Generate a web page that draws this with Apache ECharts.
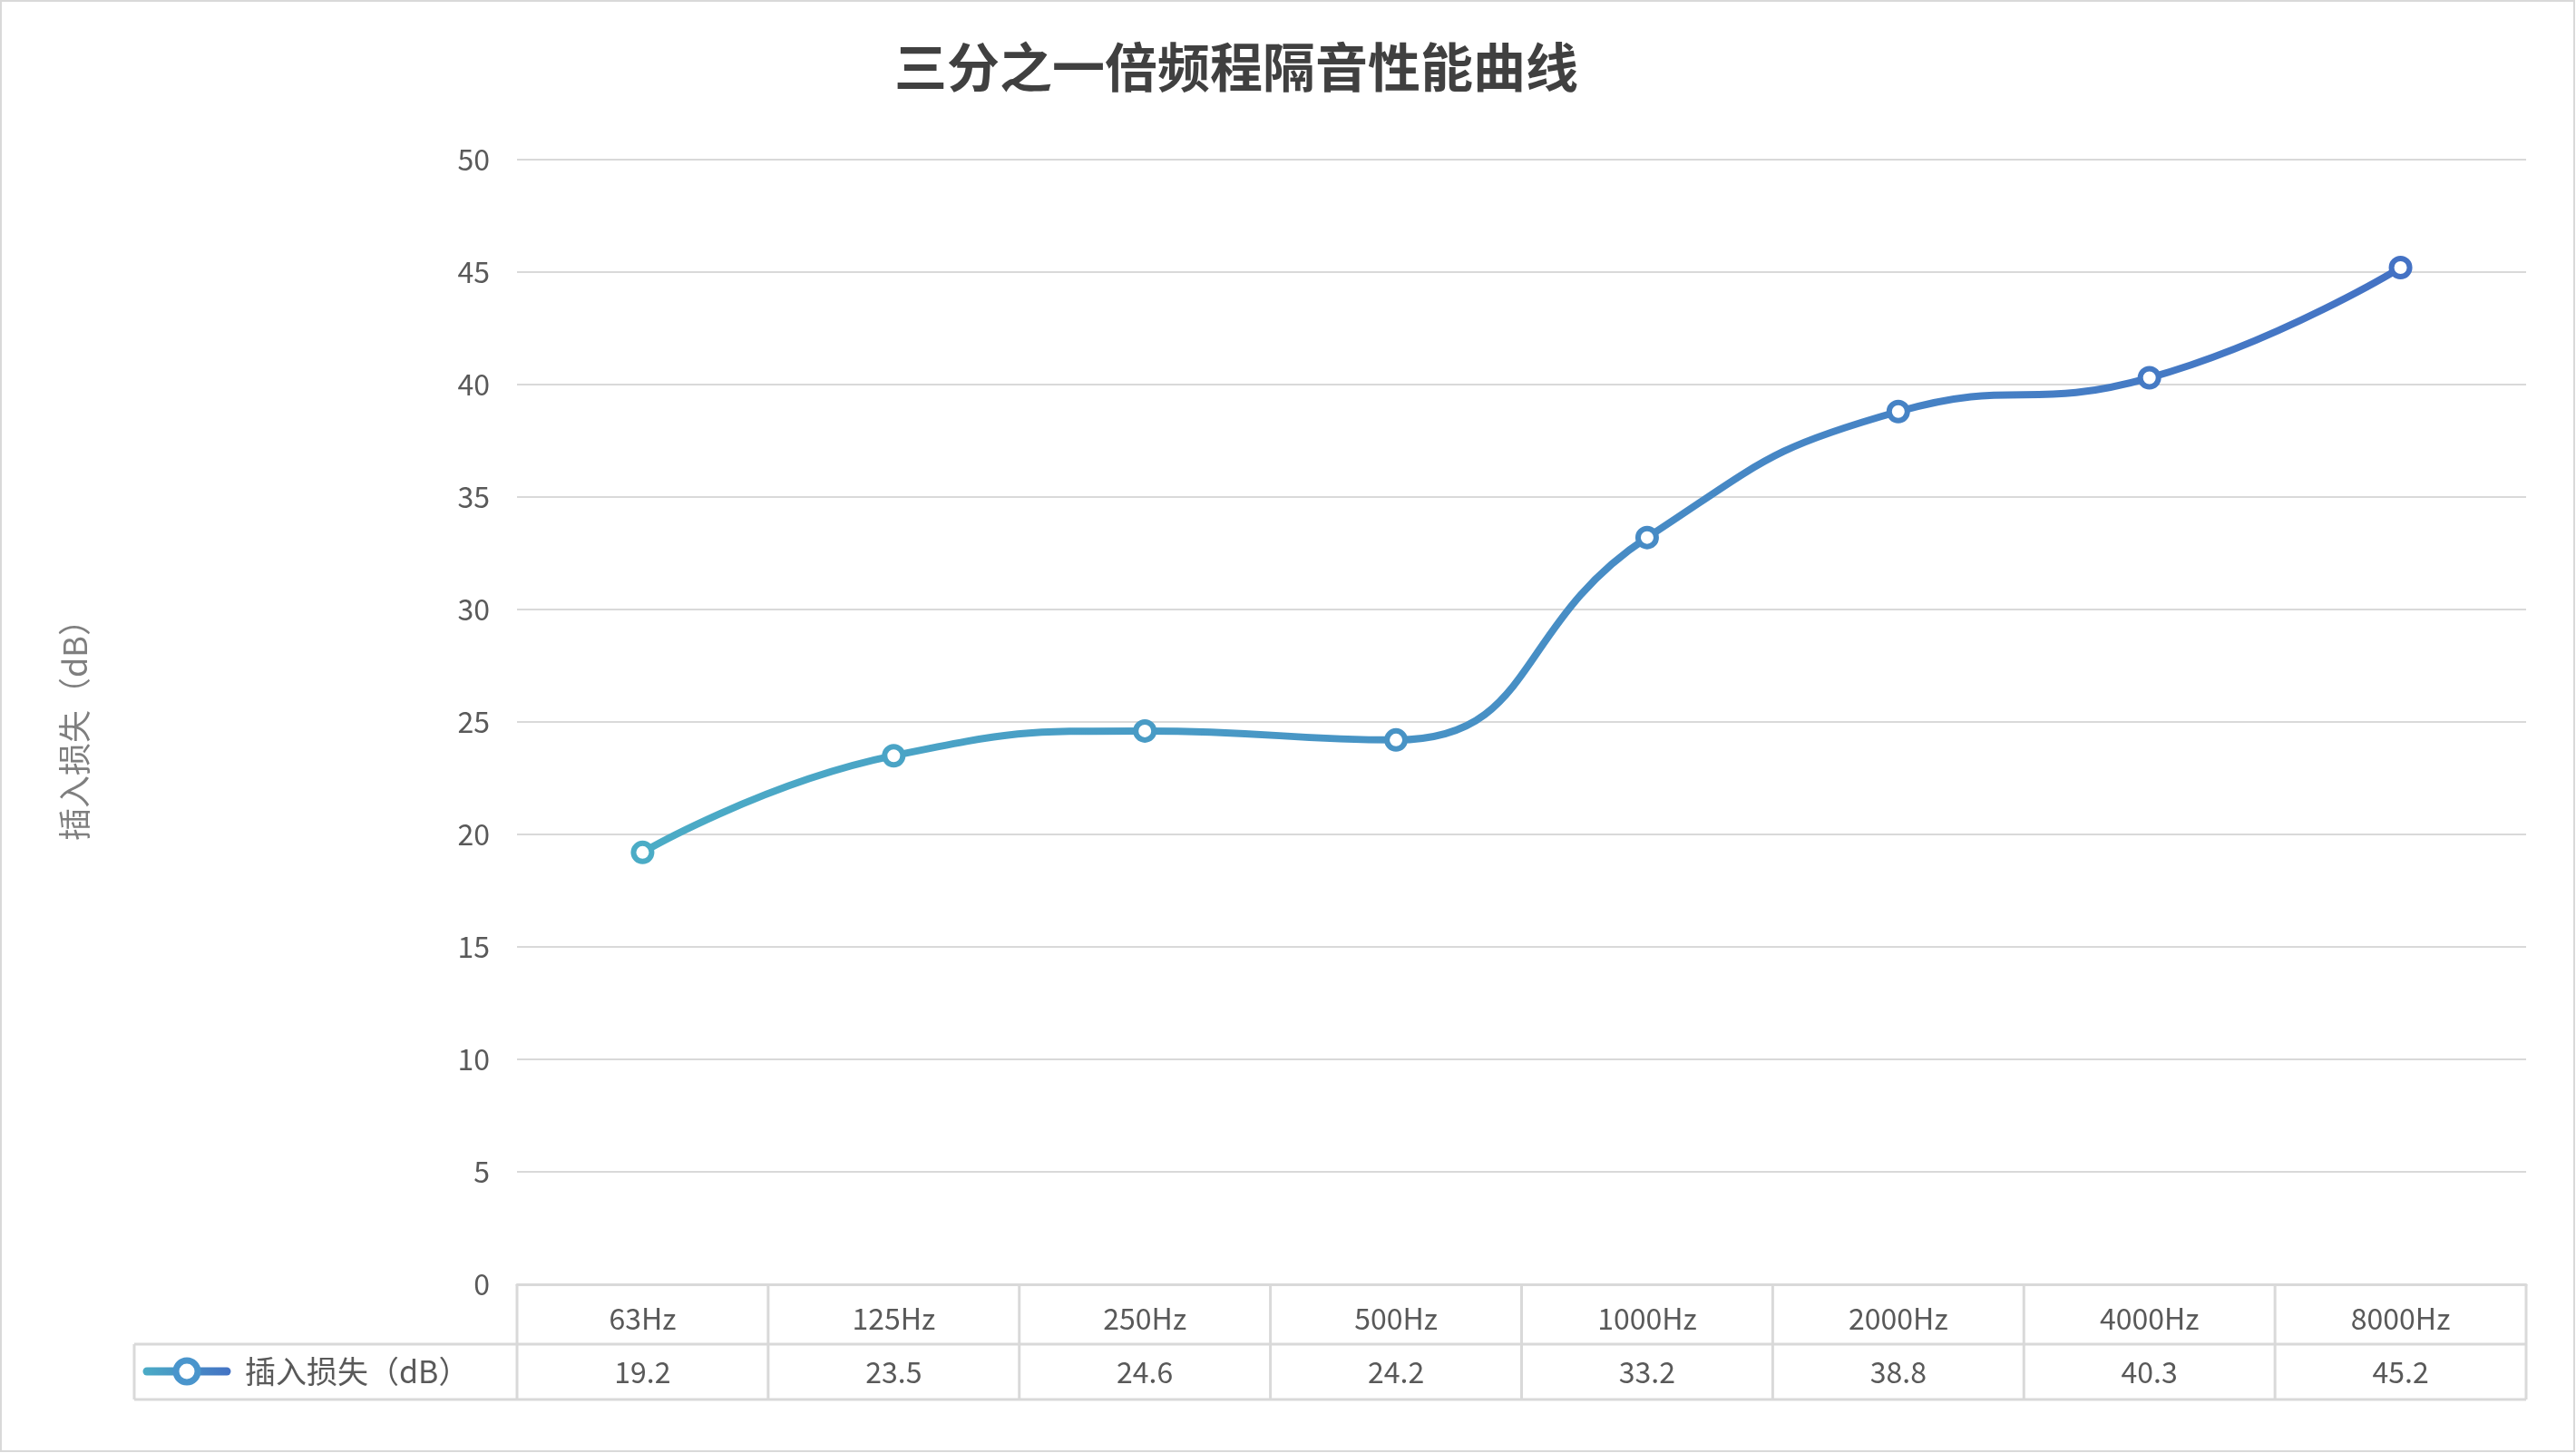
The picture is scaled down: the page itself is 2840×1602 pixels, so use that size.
<!DOCTYPE html>
<html><head><meta charset="utf-8">
<script src="https://cdn.jsdelivr.net/npm/echarts@6/dist/echarts.min.js"></script>
<style>html,body{margin:0;padding:0;background:#fff}#c{width:2840px;height:1602px}</style>
</head><body><div id="c"></div>
<script>
const title = '三分之一倍频程隔音性能曲线';
const seriesName = '插入损失（dB）';
const categories = ['63Hz','125Hz','250Hz','500Hz','1000Hz','2000Hz','4000Hz','8000Hz'];
const values = [19.2, 23.5, 24.6, 24.2, 33.2, 38.8, 40.3, 45.2];
const yTicks = {min: 0, max: 50, interval: 5};

const font = '"Noto Sans CJK SC","Noto Sans",sans-serif';
const L = 570, R = 2785, T = 176, B = 1416, ROW1 = 1482, ROW2 = 1543, LEG = 148;
const colW = (R - L) / categories.length;
const lineC = '#d9d9d9';

function mix(a, b, t) {
  const pa = a.match(/\w\w/g).map(h => parseInt(h, 16)), pb = b.match(/\w\w/g).map(h => parseInt(h, 16));
  return 'rgb(' + pa.map((v, i) => Math.round(v + (pb[i] - v) * t)).join(',') + ')';
}
const c1 = '4bacc6', c2 = '4472c4';

const g = [];
// frame
g.push({type:'rect', shape:{x:1,y:1,width:2837,height:1599}, style:{fill:'none', stroke:'#d9d9d9', lineWidth:2}});
// table lines
g.push({type:'line', shape:{x1:L,y1:ROW1,x2:R,y2:ROW1}, style:{stroke:lineC,lineWidth:3}});
g.push({type:'line', shape:{x1:LEG,y1:ROW1,x2:L,y2:ROW1}, style:{stroke:lineC,lineWidth:3}});
g.push({type:'line', shape:{x1:LEG,y1:ROW2,x2:R,y2:ROW2}, style:{stroke:lineC,lineWidth:3}});
g.push({type:'line', shape:{x1:LEG,y1:ROW1,x2:LEG,y2:ROW2}, style:{stroke:lineC,lineWidth:3}});
for (let i = 0; i <= categories.length; i++) {
  const x = L + i * colW;
  g.push({type:'line', shape:{x1:x,y1:B,x2:x,y2:ROW2}, style:{stroke:lineC,lineWidth:3}});
}
values.forEach((v, i) => {
  g.push({type:'text', x: L + (i + 0.5) * colW, y: (ROW1 + ROW2) / 2,
    style:{text:String(v), font:'32px ' + font, fill:'#595959', align:'center', verticalAlign:'middle'}});
});
// legend key
g.push({type:'line', shape:{x1:162,y1:1512,x2:250,y2:1512},
  style:{stroke:new echarts.graphic.LinearGradient(0,0,1,0,[{offset:0,color:'#'+c1},{offset:1,color:'#'+c2}]),lineWidth:9,lineCap:'round'}});
g.push({type:'circle', shape:{cx:206,cy:1512,r:12}, style:{fill:'#fff', stroke:'#4a95cc', lineWidth:7}});
g.push({type:'text', x:270, y:1512,
  style:{text:seriesName, font:'34px ' + font, fill:'#595959', verticalAlign:'middle'}});

const chart = echarts.init(document.getElementById('c'));
chart.setOption({
  animation:false,
  backgroundColor:'#fff',
  title:{text:title, left:'center', left:1358, textAlign:'center', top:40,
    textStyle:{fontFamily:font, fontSize:58, fontWeight:'bold', color:'#404040'}},
  grid:{left:L, right:2840-R, top:T, bottom:1602-B},
  xAxis:{type:'category', data:categories, boundaryGap:true,
    axisLine:{lineStyle:{color:lineC,width:3}}, axisTick:{show:false},
    axisLabel:{fontFamily:font, fontSize:32, color:'#595959', margin:22}},
  yAxis:{type:'value', min:yTicks.min, max:yTicks.max, interval:yTicks.interval,
    name:seriesName, nameLocation:'middle', nameGap:470, nameRotate:90,
    nameTextStyle:{fontFamily:font, fontSize:36, color:'#7f7f7f'},
    axisLine:{show:false}, axisTick:{show:false},
    splitLine:{lineStyle:{color:lineC,width:2}},
    axisLabel:{fontFamily:font, fontSize:32, color:'#595959', margin:30}},
  series:[{name:seriesName, type:'line', smooth:0.5,
    data: values.map((v, i) => ({value:v, itemStyle:{borderColor:mix(c1, c2, i/(values.length-1))}})),
    symbol:'circle', symbolSize:20,
    lineStyle:{width:8, color:new echarts.graphic.LinearGradient(0,0,1,0,[{offset:0,color:'#'+c1},{offset:1,color:'#'+c2}])},
    itemStyle:{color:'#fff', borderWidth:6}}],
  graphic:g
});
</script></body></html>
